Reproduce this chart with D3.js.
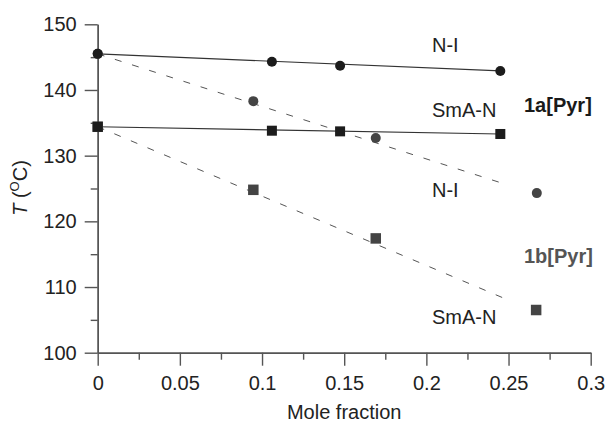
<!DOCTYPE html>
<html>
<head>
<meta charset="utf-8">
<script src="https://cdn.jsdelivr.net/npm/d3@7"></script>
<style>
  body { margin: 0; background: #fff; }
  svg text { font-family: Arial, "Liberation Sans", sans-serif; fill: #222; }
</style>
</head>
<body>
<div id="chart"></div>
<script>
// 1a[Pyr] transitions (black markers)
const niA_x = [0, 0.106, 0.1475, 0.245];
const niA_y = [145.5, 144.3, 143.7, 142.9];
const smaA_x = [0, 0.106, 0.1475, 0.245];
const smaA_y = [134.4, 133.8, 133.7, 133.3];

// 1b[Pyr] transitions (grey markers)
const niB_x = [0, 0.0947, 0.1692, 0.2672];
const niB_y = [145.5, 138.3, 132.7, 124.3];
const smaB_x = [0, 0.0947, 0.1692, 0.2668];
const smaB_y = [134.4, 124.8, 117.4, 106.5];

// trend lines: [x start, x end], [T start, T end]
const fitNiA = [[0, 0.245], [145.5, 142.9]];
const fitSmaA = [[0, 0.245], [134.4, 133.3]];
const fitNiB = [[0, 0.25], [145.5, 125.5]];
const fitSmaB = [[0, 0.25], [134.4, 108.0]];

const xTicks = [0, 0.05, 0.1, 0.15, 0.2, 0.25, 0.3];
const yTicks = [100, 110, 120, 130, 140, 150];

const w = 605, h = 423;
const fontSize = 20;

const svg = d3.select("#chart").append("svg")
    .attr("width", w)
    .attr("height", h);

const x = d3.scaleLinear().domain([0, 0.3]).range([97.7, 590.7]);
const y = d3.scaleLinear().domain([100, 150]).range([352.7, 24.3]);

const axisColor = "#555";

// minor ticks first, then major axes on top
const xMinor = d3.range(0.025, 0.3, 0.05);
const yMinor = d3.range(105, 150, 10);

svg.append("g")
    .attr("transform", "translate(0," + y(100) + ")")
    .call(d3.axisBottom(x).tickValues(xMinor).tickSize(7).tickSizeOuter(0).tickFormat(""));
svg.append("g")
    .attr("transform", "translate(" + x(0) + ",0)")
    .call(d3.axisLeft(y).tickValues(yMinor).tickSize(7).tickSizeOuter(0).tickFormat(""));

const xAxis = svg.append("g")
    .attr("transform", "translate(0," + y(100) + ")")
    .call(d3.axisBottom(x).tickValues(xTicks).tickSize(13).tickSizeOuter(0).tickPadding(10)
        .tickFormat(d => String(+d.toFixed(2))));
const yAxis = svg.append("g")
    .attr("transform", "translate(" + x(0) + ",0)")
    .call(d3.axisLeft(y).tickValues(yTicks).tickSize(13).tickSizeOuter(0).tickPadding(8));

svg.selectAll(".domain, .tick line")
    .attr("stroke", axisColor)
    .attr("stroke-width", 1.4);
svg.selectAll(".tick text")
    .attr("font-size", fontSize)
    .attr("font-family", "Arial, 'Liberation Sans', sans-serif")
    .attr("fill", "#222");

// axis titles
svg.append("text")
    .attr("x", (x(0) + x(0.3)) / 2)
    .attr("y", 419)
    .attr("text-anchor", "middle")
    .attr("font-size", fontSize)
    .text("Mole fraction");

const yl = svg.append("text")
    .attr("transform", "translate(27,188) rotate(-90)")
    .attr("text-anchor", "middle")
    .attr("font-size", fontSize);
yl.append("tspan").attr("font-style", "italic").text("T");
yl.append("tspan").text(" (");
yl.append("tspan").attr("font-size", 13).attr("dy", -8).text("O");
yl.append("tspan").attr("dy", 8).text("C)");

// trend lines
function fitLine(fit, dashed, color) {
    svg.append("line")
        .attr("x1", x(fit[0][0])).attr("y1", y(fit[1][0]))
        .attr("x2", x(fit[0][1])).attr("y2", y(fit[1][1]))
        .attr("stroke", color)
        .attr("stroke-width", dashed ? 1 : 1.2)
        .attr("stroke-dasharray", dashed ? "7,11" : null);
}
fitLine(fitNiB, true, "#555");
fitLine(fitSmaB, true, "#555");
fitLine(fitNiA, false, "#333");
fitLine(fitSmaA, false, "#333");

// markers
function circles(xs, ys, color, r) {
    svg.append("g").selectAll("circle")
        .data(xs.map((d, i) => [d, ys[i]]))
        .enter().append("circle")
        .attr("cx", d => x(d[0]))
        .attr("cy", d => y(d[1]))
        .attr("r", r)
        .attr("fill", color);
}
function squares(xs, ys, color, s) {
    svg.append("g").selectAll("rect")
        .data(xs.map((d, i) => [d, ys[i]]))
        .enter().append("rect")
        .attr("x", d => x(d[0]) - s / 2)
        .attr("y", d => y(d[1]) - s / 2)
        .attr("width", s)
        .attr("height", s)
        .attr("fill", color);
}
circles(niB_x, niB_y, "#444", 5);
squares(smaB_x, smaB_y, "#444", 10.5);
circles(niA_x, niA_y, "#1c1c1c", 5);
squares(smaA_x, smaA_y, "#1c1c1c", 10);

// annotations
const notes = [
    {t: "N-I", px: 432, py: 52, bold: false, c: "#222"},
    {t: "SmA-N", px: 432, py: 117, bold: false, c: "#222"},
    {t: "1a[Pyr]", px: 524, py: 112, bold: true, c: "#1a1a1a"},
    {t: "N-I", px: 432, py: 197, bold: false, c: "#222"},
    {t: "1b[Pyr]", px: 524, py: 263, bold: true, c: "#555"},
    {t: "SmA-N", px: 432, py: 324, bold: false, c: "#222"}
];
svg.append("g").selectAll("text")
    .data(notes)
    .enter().append("text")
    .attr("x", d => d.px)
    .attr("y", d => d.py)
    .attr("font-size", fontSize)
    .attr("font-weight", d => d.bold ? "bold" : null)
    .style("fill", d => d.c)
    .text(d => d.t);
</script>
</body>
</html>
